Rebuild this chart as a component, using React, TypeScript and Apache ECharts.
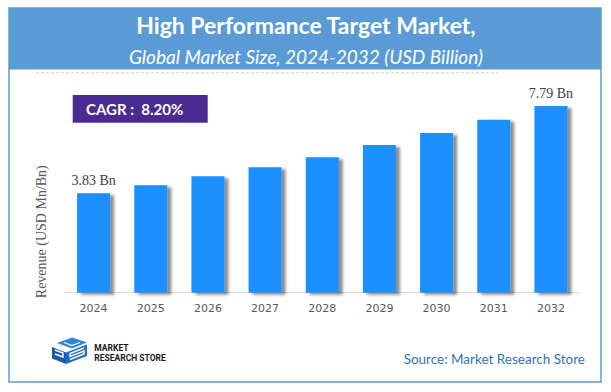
import React, { useEffect, useRef } from "react";
import * as echarts from "echarts";

const years = ["2024", "2025", "2026", "2027", "2028", "2029", "2030", "2031", "2032"];
const revenue = [3.83, 4.14, 4.49, 4.83, 5.22, 5.69, 6.15, 6.66, 7.19];
const barLabels = ["3.83 Bn", "", "", "", "", "", "", "", "7.79 Bn"];
const titleText = "High Performance Target Market,";
const subtitleText = "Global Market Size, 2024-2032 (USD Billion)";
const cagrText = "CAGR :  8.20%";
const yAxisName = "Revenue (USD Mn/Bn)";
const sourceText = "Source: Market Research Store";
const logoLine1 = "MARKET";
const logoLine2 = "RESEARCH STORE";

export default function App() {
  const ref = useRef<HTMLDivElement>(null);
  useEffect(() => {
    const chart = echarts.init(ref.current!, null, { renderer: "svg" });
    chart.setOption({
      animation: false,
      backgroundColor: "#ffffff",
      grid: { left: 65, right: 31.5, top: 90, bottom: 99.3 },
      xAxis: {
        type: "category",
        data: years,
        axisLine: { lineStyle: { color: "#d9d9d9", width: 1 } },
        axisTick: { show: false },
        axisLabel: { color: "#595959", fontFamily: "DejaVu Sans", fontSize: 11, margin: 10 },
      },
      yAxis: {
        type: "value",
        min: 0,
        max: 7.81,
        show: false,
        splitLine: { show: false },
      },
      series: [
        {
          type: "bar",
          data: revenue,
          barWidth: 33,
          itemStyle: {
            color: "#1e90ff",
            shadowColor: "rgba(0,0,0,0.45)",
            shadowBlur: 3,
            shadowOffsetX: 4,
            shadowOffsetY: 2,
          },
          label: {
            show: true,
            position: "top",
            distance: 6,
            color: "#404040",
            fontFamily: "Liberation Serif",
            fontSize: 14,
            formatter: (p: any) => barLabels[p.dataIndex],
          },
        },
      ],
      graphic: [
        {
          type: "rect",
          shape: { x: 9, y: 8, width: 592, height: 374 },
          style: { fill: "none", stroke: "#5b9bd5", lineWidth: 1.5 },
          z: 10,
        },
        {
          type: "rect",
          shape: { x: 9, y: 8, width: 592, height: 61.5 },
          style: { fill: "#5b9bd5" },
          z: 9,
        },
        {
          type: "text",
          x: 306,
          y: 25,
          style: {
            text: titleText,
            fill: "#ffffff",
            font: "bold 23px Lato",
            textAlign: "center",
            textVerticalAlign: "middle",
          },
          z: 11,
        },
        {
          type: "text",
          x: 306,
          y: 56.5,
          style: {
            text: subtitleText,
            fill: "#ffffff",
            font: "italic 19px Lato",
            textAlign: "center",
            textVerticalAlign: "middle",
          },
          z: 11,
        },
        {
          type: "line",
          shape: { x1: 36, y1: 72.7, x2: 498, y2: 72.7 },
          style: { stroke: "#f8cbad", lineWidth: 1, lineDash: [3, 2] },
          z: 9,
        },
        {
          type: "rect",
          shape: { x: 72.7, y: 95, width: 135, height: 27.7 },
          style: { fill: "#4a2b92" },
          z: 9,
        },
        {
          type: "text",
          x: 86,
          y: 109,
          style: {
            text: cagrText,
            fill: "#ffffff",
            font: "bold 15px Lato",
            textAlign: "left",
            textVerticalAlign: "middle",
          },
          z: 11,
        },
        {
          type: "text",
          x: 41.7,
          y: 231.7,
          rotation: Math.PI / 2,
          style: {
            text: yAxisName,
            fill: "#595959",
            font: "14px 'Liberation Serif'",
            textAlign: "center",
            textVerticalAlign: "middle",
          },
          z: 11,
        },
        {
          type: "polygon",
          shape: { points: [[57, 343], [72, 337.5], [87, 342.5], [72, 348.5]] },
          style: { fill: "#2e86d8" },
          z: 11,
        },
        {
          type: "polygon",
          shape: { points: [[52, 347], [66, 352.5], [66, 364], [52, 358.5]] },
          style: { fill: "#1a5aa6" },
          z: 11,
        },
        {
          type: "polygon",
          shape: { points: [[66, 352.5], [87, 344.5], [87, 356], [66, 364]] },
          style: { fill: "#1f6fc2" },
          z: 11,
        },
        {
          type: "polyline",
          shape: { points: [[55, 350], [63, 353], [63, 357], [55, 354]] },
          style: { stroke: "#ffffff", lineWidth: 1.4, fill: "none" },
          z: 12,
        },
        {
          type: "polyline",
          shape: { points: [[84, 348], [70, 353.5], [70, 356.5], [84, 351], [84, 354], [70, 359.5]] },
          style: { stroke: "#ffffff", lineWidth: 1.4, fill: "none" },
          z: 12,
        },
        {
          type: "polyline",
          shape: { points: [[64, 342.5], [72, 345.5], [80, 342.5]] },
          style: { stroke: "#ffffff", lineWidth: 1.2, fill: "none" },
          z: 12,
        },
        {
          type: "text",
          x: 94.3,
          y: 348.3,
          style: {
            text: logoLine1,
            fill: "#1a1a1a",
            font: "bold 8.5px Roboto",
            textAlign: "left",
            textVerticalAlign: "middle",
          },
          z: 11,
        },
        {
          type: "text",
          x: 94.3,
          y: 358,
          style: {
            text: logoLine2,
            fill: "#1a1a1a",
            font: "bold 8.5px Roboto",
            textAlign: "left",
            textVerticalAlign: "middle",
          },
          z: 11,
        },
        {
          type: "text",
          x: 585,
          y: 359,
          style: {
            text: sourceText,
            fill: "#2e75b6",
            font: "13.5px Lato",
            textAlign: "right",
            textVerticalAlign: "middle",
          },
          z: 11,
        },
      ],
    });
    return () => chart.dispose();
  }, []);
  return (
    <div
      ref={ref}
      style={{ position: "absolute", left: 0, top: 0, width: 611, height: 392 }}
    />
  );
}
